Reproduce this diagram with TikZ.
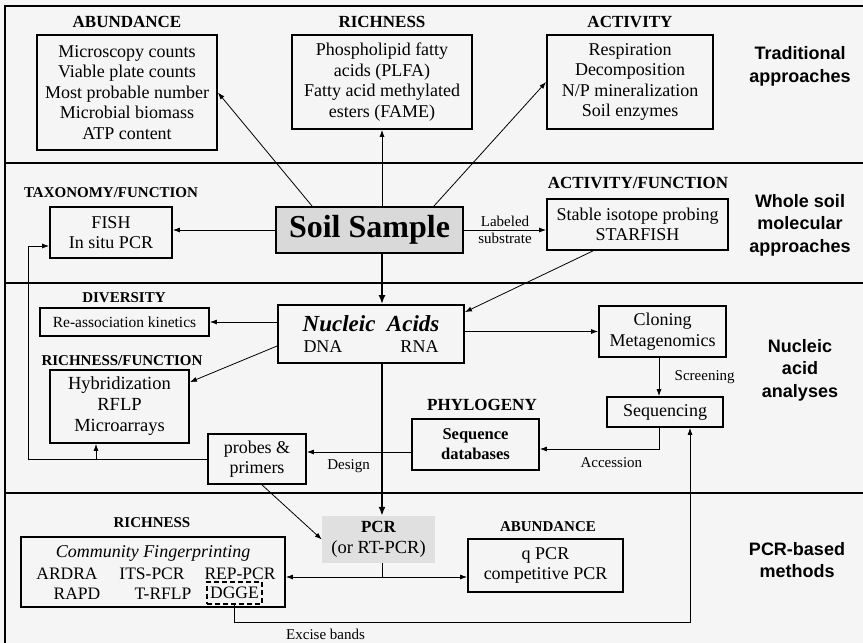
\documentclass[tikz,border=0pt]{standalone}
\usepackage{fontspec}
\setmainfont{Liberation Serif}
\setsansfont{Liberation Sans}
\usetikzlibrary{arrows.meta}

\tikzset{
  box/.style={draw, line width=1.8pt, align=center, inner sep=0pt, font=\fontsize{18}{20.5}\selectfont},
  head/.style={font=\bfseries\fontsize{17}{20}\selectfont},
  subhead/.style={font=\bfseries\fontsize{15}{18}\selectfont},
  side/.style={align=center, font=\sffamily\bfseries\fontsize{18}{22.5}\selectfont},
  lbl/.style={font=\fontsize{15}{17}\selectfont},
  fp/.style={font=\fontsize{17.5}{20}\selectfont},
  arr/.style={-{Latex[length=7pt,width=5pt]}, line width=0.8pt},
  thickarr/.style={-{Latex[length=9pt,width=7pt]}, line width=2.2pt},
  sect/.style={line width=2.4pt},
}

\begin{document}
\begin{tikzpicture}[x=1pt, y=-1pt]
\useasboundingbox[fill=black!4] (0,0) rectangle (863,643);

% frame and bands
\draw[sect] (5,643) -- (5,6) -- (863,6);
\draw[sect] (5,163) -- (863,163);
\draw[sect] (5,283) -- (863,283);
\draw[sect] (5,493) -- (863,493);

% traditional approaches
\node[head] (habund) at (127,22) {ABUNDANCE};
\node[box, minimum width=180pt, minimum height=115pt] (abund) at (127,92.5)
  {Microscopy counts\\Viable plate counts\\Most probable number\\Microbial biomass\\ATP content};
\node[head] (hrich) at (382,22) {RICHNESS};
\node[box, minimum width=180pt, minimum height=94pt] (rich) at (382,82)
  {Phospholipid fatty\\acids (PLFA)\\Fatty acid methylated\\esters (FAME)};
\node[head] (hactiv) at (630,22) {ACTIVITY};
\node[box, minimum width=166pt, minimum height=94pt] (activ) at (630,82)
  {Respiration\\Decomposition\\N/P mineralization\\Soil enzymes};
\node[side] (strad) at (800,66.5) {Traditional\\approaches};

% whole soil
\node[box, fill=black!15, minimum width=187pt, minimum height=46pt,
  font=\bfseries\fontsize{32}{34}\selectfont] (soil) at (369.5,230) {Soil Sample};
\node[subhead] (htax) at (111,193) {TAXONOMY/FUNCTION};
\node[box, minimum width=122pt, minimum height=51pt] (fish) at (111,232.5) {FISH\\In situ PCR};
\node[head] (hactfun) at (638,183) {ACTIVITY/FUNCTION};
\node[box, minimum width=181pt, minimum height=51pt] (sip) at (637.5,224.5)
  {Stable isotope probing\\STARFISH};
\node[side] (swhole) at (800,225) {Whole soil\\molecular\\approaches};

% nucleic acids
\node[box, minimum width=186pt, minimum height=58pt] (nucl) at (371,334)
  {{\bfseries\itshape\fontsize{23}{24}\selectfont Nucleic~~Acids}\\DNA\hspace{58pt}RNA};
\node[subhead] (hdiv) at (124,298) {DIVERSITY};
\node[box, minimum width=169pt, minimum height=28pt, font=\fontsize{15.5}{18}\selectfont]
  (reas) at (124.5,322) {Re-association kinetics};
\node[subhead] (hrichf) at (122,361) {RICHNESS/FUNCTION};
\node[box, minimum width=139pt, minimum height=73pt, font=\fontsize{18.5}{21}\selectfont]
  (hyb) at (119.5,406.5) {Hybridization\\RFLP\\Microarrays};
\node[box, minimum width=127pt, minimum height=51pt] (clon) at (662.5,331.5) {Cloning\\Metagenomics};
\node[box, minimum width=116pt, minimum height=30pt] (seq) at (665,412) {Sequencing};
\node[head] (hphyl) at (482,405) {PHYLOGENY};
\node[box, minimum width=127pt, minimum height=51pt, font=\bfseries\fontsize{16.5}{20}\selectfont]
  (sdb) at (475.5,444.5) {Sequence\\databases};
\node[box, minimum width=98pt, minimum height=50pt] (probe) at (257,459) {probes \&\\primers};
\node[side] (snucl) at (800,370) {Nucleic\\acid\\analyses};

% PCR-based
\node[fill=black!12, minimum width=113pt, minimum height=47pt, align=center, inner sep=0pt,
  font=\fontsize{18.5}{21}\selectfont] (pcr) at (378.5,539.5)
  {{\bfseries\fontsize{17}{21}\selectfont PCR}\\(or RT-PCR)};
\node[subhead] (hrich2) at (152,523) {RICHNESS};
\node[box, minimum width=264pt, minimum height=70pt] (comm) at (153,572) {};
\node[font=\itshape\fontsize{18}{20}\selectfont] (cfp) at (153,553) {Community Fingerprinting};
\node[fp] (ardra) at (67,574) {ARDRA};
\node[fp] (its) at (152,574) {ITS-PCR};
\node[fp] (rep) at (240,574) {REP-PCR};
\node[fp] (rapd) at (77,594) {RAPD};
\node[fp] (trflp) at (163,594) {T-RFLP};
\node[fp, draw, dash pattern=on 5pt off 3pt, line width=1.4pt, minimum width=55pt,
  minimum height=22pt, inner sep=0pt] (dgge) at (234.5,593) {DGGE};
\node[subhead] (habund2) at (548,527) {ABUNDANCE};
\node[box, minimum width=155pt, minimum height=53pt] (qpcr) at (545.5,565.5) {q PCR\\competitive PCR};
\node[side] (spcr) at (797,560) {PCR-based\\methods};

% helper points
\coordinate (mid) at (382,0);
\coordinate (fbk) at (28,246);
\coordinate (tap) at (96,459);
\coordinate (split) at (382,577);
\coordinate (xb) at (690,622);

% connectors
\draw[arr] ([xshift=37pt]soil.north west) -- (abund.east);
\draw[arr] (soil.north -| mid) -- (rich.south -| mid);
\draw[arr] ([xshift=-30pt]soil.north east) -- (activ.west);
\draw[arr] (soil.west) -- (soil.west -| fish.east);
\draw[arr] (soil.east) -- node[lbl, align=center] {Labeled\\substrate} (soil.east -| sip.west);
\draw[thickarr] (soil.south -| mid) -- (nucl.north -| mid);
\draw[arr] ([xshift=-44.5pt]sip.south) -- ([yshift=-8pt]nucl.north east);
\draw[arr] (nucl.west |- reas.east) -- (reas.east);
\draw[arr] ([yshift=-12pt]nucl.west) -- ([yshift=-13pt]hyb.north east);
\draw[arr] (nucl.east |- clon.west) -- (clon.west);
\draw[arr] ([xshift=-3.5pt]clon.south) -- node[lbl, right=12pt] {Screening} ([xshift=-6pt]seq.north);
\draw[arr] ([xshift=-6pt]seq.south) |- node[lbl, pos=0.7, below=5pt] {Accession} ([yshift=-4.5pt]sdb.east);
\draw[arr] ([yshift=-7.5pt]sdb.west) -- node[lbl, pos=0.6, below=4pt] {Design} ([yshift=7pt]probe.east);
\draw[thickarr] (nucl.south -| mid) -- (pcr.north -| mid);
\draw[arr] ([xshift=5pt]probe.south) -- (pcr.west);
\draw[arr] (probe.west) -| (fbk) -- (fbk -| fish.west);
\draw[arr] (tap) -- (tap |- hyb.south);
\draw[line width=0.8pt] (pcr.south -| mid) -- (split);
\draw[arr] (split) -- (split -| comm.east);
\draw[arr] (split) -- (split -| qpcr.west);
\draw[arr] (dgge.south) |- node[lbl, pos=0.6, below=3pt] {Excise bands} (xb) -- (xb |- seq.south);
\end{tikzpicture}
\end{document}
